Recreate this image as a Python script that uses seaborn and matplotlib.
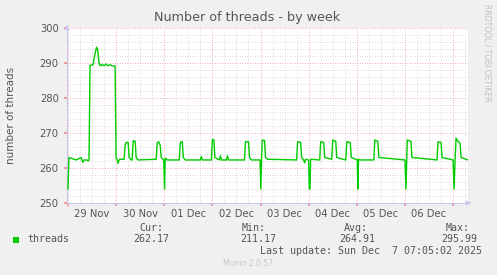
import matplotlib
matplotlib.use("Agg")
import matplotlib.pyplot as plt
import matplotlib.ticker as mticker
import seaborn as sns
import pandas as pd
import numpy as np

# ---- data (x in hours since 29 Nov 00:00, value in threads) ----
hours = [0.0, 0.5, 1.5, 4.0, 6.5, 7.0, 7.5, 8.0, 9.5, 10.0, 10.5,
         11.0, 12.5, 13.25, 14.25, 14.75, 15.5, 16.0, 17.0, 18.0, 19.0, 20.0, 21.0, 22.0, 23.5, 24.0,
         24.5, 25.0, 25.5, 26.0, 28.0, 28.5, 29.0, 30.0, 30.5, 31.5, 32.0, 32.5, 33.5, 34.0, 35.0,
         44.0, 44.5, 45.25, 46.0, 46.5, 47.75, 48.15, 48.5, 49.5,
         55.5, 56.0, 57.0, 57.5, 58.5,
         66.0, 66.5, 67.0, 71.5, 72.0, 72.75, 73.25, 75.5, 76.0, 76.5, 79.0, 79.5, 80.0,
         88.0, 88.5, 90.0, 90.5, 91.5,
         95.75, 96.15, 96.5, 96.9, 98.0, 98.5, 99.5,
         114.0, 114.5, 116.0, 116.5, 117.5, 118.0, 118.5, 120.0, 120.3, 120.65, 121.0,
         125.5, 126.0, 127.5, 128.0, 131.5, 132.0, 133.5, 134.0,
         138.5, 139.0, 140.75, 141.25, 144.25, 144.5, 144.85, 145.5,
         152.5, 153.0, 154.5, 155.0,
         168.0, 168.5, 168.9, 169.15, 171.0, 171.5,
         184.0, 184.5, 186.0, 186.5,
         192.0, 192.5, 193.0, 193.5, 194.0, 195.5, 196.0, 199.5]
values = [254.0, 263.0, 262.8, 262.3, 263.0, 262.3, 261.6, 262.3, 262.3, 262.0, 262.3,
          289.3, 289.5, 292.0, 294.5, 294.0, 290.0, 289.2, 289.6, 289.2, 289.7, 289.2, 289.5, 289.2, 289.1, 262.8,
          262.5, 261.3, 262.3, 262.5, 262.5, 266.5, 267.3, 267.3, 263.0, 262.3, 262.3, 267.8, 267.6, 263.0, 262.3,
          262.5, 267.2, 267.5, 266.5, 263.0, 262.3, 254.0, 262.8, 262.3,
          262.3, 267.3, 267.5, 263.0, 262.3,
          262.3, 263.3, 262.3, 262.3, 268.2, 268.0, 263.0, 262.3, 263.5, 262.3, 262.3, 263.5, 262.3,
          262.3, 267.5, 267.5, 263.0, 262.3,
          262.3, 254.0, 262.5, 268.0, 267.8, 263.0, 262.5,
          262.3, 267.5, 267.3, 263.0, 262.3, 261.5, 262.5, 262.3, 254.0, 254.0, 262.5,
          262.3, 267.5, 267.3, 263.0, 262.5, 268.0, 267.6, 263.0,
          262.3, 267.5, 267.3, 263.0, 262.3, 254.0, 262.5, 262.3,
          262.3, 268.0, 267.6, 263.0,
          262.3, 254.0, 262.5, 268.0, 267.6, 263.0,
          262.3, 267.5, 267.3, 263.0,
          262.3, 254.0, 262.5, 268.5, 268.0, 267.0, 263.0, 262.3]
day_labels = ["29 Nov", "30 Nov", "01 Dec", "02 Dec", "03 Dec", "04 Dec", "05 Dec", "06 Dec"]
y_ticks = [250, 260, 270, 280, 290, 300]
stat_names = ["Cur:", "Min:", "Avg:", "Max:"]
stat_values = ["262.17", "211.17", "264.91", "295.99"]
series_name = "threads"

df = pd.DataFrame({"day": np.array(hours) / 24.0, "threads": values})

sns.set_theme(style="white")
plt.rcParams["font.family"] = ["DejaVu Sans"]

W, H = 497, 275
fig = plt.figure(figsize=(W / 100, H / 100), dpi=100, facecolor="#F0F0F0")
ax = fig.add_axes([67 / W, 1 - 203 / H, 401 / W, 175 / H])
ax.set_facecolor("white")

# grid
ax.set_xlim(-0.02, 8.31)
ax.set_ylim(250, 300)
ax.xaxis.set_major_locator(mticker.MultipleLocator(1.0))
ax.xaxis.set_minor_locator(mticker.MultipleLocator(0.25))
ax.yaxis.set_major_locator(mticker.FixedLocator(y_ticks))
ax.yaxis.set_minor_locator(mticker.MultipleLocator(2))
ax.grid(which="minor", color="#D0D0D0", linestyle=(0, (1, 2)), linewidth=0.6)
ax.grid(which="major", color="#F09090", linestyle=(0, (1, 2)), linewidth=0.6)
ax.set_axisbelow(True)

sns.lineplot(data=df, x="day", y="threads", ax=ax, color="#00CC00", linewidth=1.0,
             legend=False, zorder=3)

# tick labels: days at noon via minor formatter
ax.xaxis.set_major_formatter(mticker.NullFormatter())
def minor_fmt(v, pos):
    if abs((v % 1) - 0.5) < 1e-6:
        i = int(v)
        if 0 <= i < len(day_labels):
            return day_labels[i]
    return ""
ax.xaxis.set_minor_formatter(mticker.FuncFormatter(minor_fmt))
ax.yaxis.set_major_formatter(mticker.FuncFormatter(lambda v, p: f"{int(v)}"))
ax.yaxis.set_minor_formatter(mticker.NullFormatter())
ax.tick_params(axis="x", which="major", length=2, color="#F09090", bottom=True, labelbottom=False)
ax.tick_params(axis="x", which="minor", length=0, pad=4, labelsize=7.2, labelcolor="#555555")
ax.tick_params(axis="y", which="major", length=2, color="#F09090", left=True, pad=4,
               labelsize=7.2, labelcolor="#555555")
ax.tick_params(axis="y", which="minor", length=0)
ax.set_xlabel("")
ax.set_ylabel("number of threads", fontsize=7.5, color="#555555")
ax.yaxis.set_label_coords(-(67 - 16) / 401, 0.5)

for s in ["top", "right"]:
    ax.spines[s].set_visible(False)
for s in ["left", "bottom"]:
    ax.spines[s].set_color("#C8C8F0")
    ax.spines[s].set_linewidth(0.8)

# axis arrows
ax.annotate("", xy=(0, 1.035), xycoords="axes fraction", xytext=(0, 0.99),
            arrowprops=dict(arrowstyle="-|>", color="#C8C8F0", lw=0.8, mutation_scale=7))
ax.annotate("", xy=(1.015, 0), xycoords="axes fraction", xytext=(0.995, 0),
            arrowprops=dict(arrowstyle="-|>", color="#C8C8F0", lw=0.8, mutation_scale=7))

# title
fig.text(247 / W, 1 - 18 / H, "Number of threads - by week", ha="center", va="center",
         fontsize=9.2, color="#555555")
fig.text(487 / W, 1 - 53 / H, "RRDTOOL / TOBI OETIKER", rotation=270, ha="center", va="center",
         fontsize=5.5, color="#C0C0C0")

# legend
mono = "DejaVu Sans Mono"
fig.patches.append(plt.Rectangle((13 / W, 1 - 242.5 / H), 6 / W, 6 / H, transform=fig.transFigure,
                                 facecolor="#00CC00", edgecolor="none"))
fig.text(27 / W, 1 - 239.5 / H, series_name, family=mono, fontsize=7.2, color="#555555", va="center")
head_right = [163, 266, 368, 470]
val_right = [169, 276, 375, 477]
for n, v, hr, vr in zip(stat_names, stat_values, head_right, val_right):
    fig.text(hr / W, 1 - 228 / H, n, family=mono, fontsize=7.2, color="#555555", ha="right", va="center")
    fig.text(vr / W, 1 - 239.5 / H, v, family=mono, fontsize=7.2, color="#555555", ha="right", va="center")
fig.text(482 / W, 1 - 251 / H, "Last update: Sun Dec  7 07:05:02 2025", family=mono, fontsize=7.2,
         color="#555555", ha="right", va="center")
fig.text(248 / W, 1 - 264 / H, "Munin 2.0.57", fontsize=5.5, color="#C8C8C8", ha="center", va="center")

fig.savefig("out.png", dpi=100, facecolor=fig.get_facecolor())
